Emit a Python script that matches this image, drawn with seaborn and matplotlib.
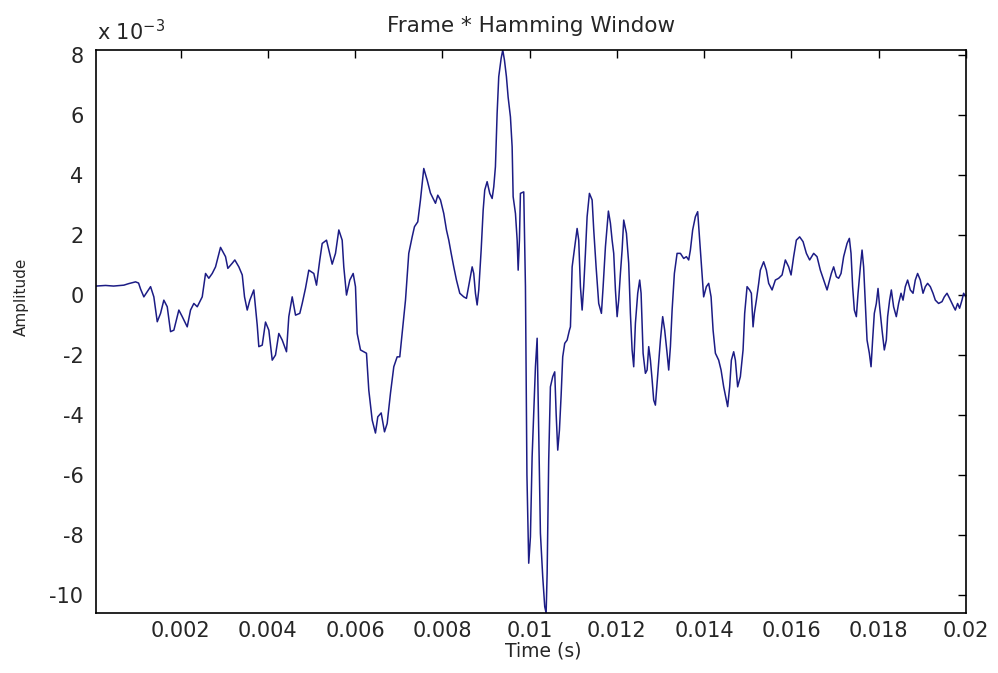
import numpy as np
import pandas as pd
import matplotlib
matplotlib.use("Agg")
import matplotlib.pyplot as plt
import seaborn as sns

# ---- data (time in ms, amplitude in units of 1e-3) ----
time_ms = [
    0.0625, 0.282, 0.465, 0.701, 0.809, 0.969, 1.038, 1.084, 1.159, 1.313,
    1.388, 1.466, 1.542, 1.617, 1.695, 1.771, 1.847, 1.961, 2.039, 2.153,
    2.229, 2.305, 2.383, 2.497, 2.573, 2.648, 2.726, 2.802, 2.916, 3.031,
    3.084, 3.184, 3.244, 3.336, 3.414, 3.466, 3.528, 3.588, 3.679, 3.757,
    3.794, 3.872, 3.947, 4.023, 4.101, 4.176, 4.252, 4.330, 4.428, 4.481,
    4.559, 4.635, 4.733, 4.788, 4.864, 4.939, 5.054, 5.116, 5.191, 5.246,
    5.345, 5.436, 5.475, 5.551, 5.627, 5.704, 5.741, 5.803, 5.879, 5.956,
    6.009, 6.048, 6.124, 6.261, 6.314, 6.392, 6.467, 6.520, 6.598, 6.674,
    6.735, 6.811, 6.887, 6.964, 7.024, 7.079, 7.155, 7.230, 7.308, 7.361,
    7.436, 7.498, 7.574, 7.652, 7.727, 7.803, 7.842, 7.895, 7.957, 8.032,
    8.094, 8.147, 8.202, 8.261, 8.323, 8.399, 8.490, 8.552, 8.628, 8.683,
    8.719, 8.758, 8.797, 8.834, 8.889, 8.935, 8.971, 9.026, 9.086, 9.141,
    9.178, 9.216, 9.255, 9.292, 9.347, 9.384, 9.423, 9.468, 9.507, 9.560,
    9.599, 9.622, 9.675, 9.714, 9.737, 9.766, 9.789, 9.865, 9.904, 9.938,
    9.979, 10.018, 10.057, 10.133, 10.172, 10.208, 10.247, 10.300, 10.346, 10.378,
    10.401, 10.437, 10.476, 10.529, 10.575, 10.607, 10.644, 10.683, 10.722, 10.758,
    10.804, 10.859, 10.912, 10.935, 10.974, 11.033, 11.088, 11.125, 11.164, 11.203,
    11.239, 11.278, 11.317, 11.370, 11.432, 11.469, 11.523, 11.583, 11.645, 11.684,
    11.737, 11.805, 11.851, 11.890, 11.927, 11.966, 12.005, 12.041, 12.080, 12.119,
    12.156, 12.218, 12.270, 12.309, 12.348, 12.385, 12.424, 12.477, 12.522, 12.554,
    12.600, 12.653, 12.692, 12.729, 12.768, 12.807, 12.843, 12.882, 12.921, 12.958,
    12.997, 13.049, 13.095, 13.150, 13.187, 13.226, 13.265, 13.317, 13.379, 13.455,
    13.531, 13.592, 13.645, 13.684, 13.736, 13.798, 13.851, 13.897, 13.952, 13.988,
    14.050, 14.103, 14.158, 14.204, 14.257, 14.332, 14.387, 14.447, 14.509, 14.538,
    14.584, 14.623, 14.676, 14.715, 14.767, 14.829, 14.891, 14.928, 14.983, 15.042,
    15.081, 15.120, 15.150, 15.196, 15.249, 15.287, 15.363, 15.425, 15.478, 15.556,
    15.631, 15.707, 15.785, 15.860, 15.936, 15.991, 16.050, 16.112, 16.188, 16.266,
    16.342, 16.417, 16.509, 16.586, 16.662, 16.738, 16.816, 16.875, 16.914, 16.967,
    17.029, 17.081, 17.136, 17.196, 17.274, 17.327, 17.365, 17.402, 17.441, 17.487,
    17.526, 17.579, 17.618, 17.654, 17.693, 17.732, 17.785, 17.824, 17.860, 17.899,
    17.945, 17.984, 18.021, 18.076, 18.128, 18.174, 18.204, 18.250, 18.289, 18.341,
    18.403, 18.456, 18.511, 18.557, 18.609, 18.662, 18.724, 18.786, 18.838, 18.891,
    18.953, 19.015, 19.068, 19.120, 19.182, 19.244, 19.297, 19.372, 19.450, 19.503,
    19.565, 19.624, 19.679, 19.716, 19.755, 19.808, 19.853, 19.908, 19.945, 20.000,
]
amp_e3 = [
    0.30, 0.32, 0.30, 0.33, 0.38, 0.44, 0.40, 0.20, -0.06, 0.28,
    -0.06, -0.89, -0.61, -0.17, -0.39, -1.22, -1.17, -0.50, -0.72, -1.06,
    -0.50, -0.28, -0.39, -0.06, 0.72, 0.56, 0.72, 0.94, 1.59, 1.28,
    0.89, 1.06, 1.17, 0.94, 0.67, -0.06, -0.50, -0.17, 0.17, -1.00,
    -1.72, -1.67, -0.90, -1.17, -2.17, -2.00, -1.28, -1.50, -1.89, -0.72,
    -0.06, -0.67, -0.61, -0.28, 0.23, 0.83, 0.72, 0.33, 1.17, 1.72,
    1.83, 1.28, 1.03, 1.39, 2.17, 1.83, 0.94, 0.00, 0.50, 0.72,
    0.28, -1.28, -1.83, -1.94, -3.17, -4.17, -4.60, -4.06, -3.93, -4.56,
    -4.28, -3.27, -2.39, -2.06, -2.06, -1.28, -0.17, 1.39, 1.94, 2.28,
    2.44, 3.17, 4.22, 3.83, 3.40, 3.17, 3.06, 3.33, 3.17, 2.72,
    2.17, 1.83, 1.39, 0.94, 0.50, 0.06, -0.06, -0.11, 0.50, 0.94,
    0.72, 0.06, -0.33, 0.17, 1.50, 2.83, 3.50, 3.78, 3.39, 3.22,
    3.61, 4.28, 6.06, 7.28, 7.89, 8.17, 7.83, 7.28, 6.60, 5.94,
    4.94, 3.28, 2.72, 1.83, 0.83, 1.83, 3.39, 3.44, 0.28, -6.00,
    -8.94, -8.06, -5.39, -2.39, -1.44, -4.50, -7.94, -9.39, -10.39, -10.60,
    -9.28, -5.50, -3.06, -2.72, -2.56, -3.94, -5.17, -4.50, -3.33, -2.06,
    -1.61, -1.50, -1.17, -1.06, 0.94, 1.61, 2.22, 1.83, 0.28, -0.50,
    0.28, 1.39, 2.61, 3.39, 3.17, 2.17, 0.94, -0.28, -0.61, 0.28,
    1.61, 2.80, 2.40, 1.83, 1.39, 0.17, -0.72, -0.17, 0.72, 1.50,
    2.50, 2.06, 1.06, -0.61, -1.83, -2.39, -0.94, 0.06, 0.50, 0.06,
    -1.94, -2.61, -2.50, -1.72, -2.17, -2.83, -3.50, -3.67, -2.94, -2.28,
    -1.50, -0.72, -1.17, -1.94, -2.50, -1.72, -0.50, 0.72, 1.39, 1.39,
    1.22, 1.28, 1.17, 1.50, 2.17, 2.61, 2.78, 1.83, 0.72, -0.06,
    0.28, 0.39, -0.06, -1.17, -1.94, -2.17, -2.50, -3.06, -3.50, -3.72,
    -3.06, -2.17, -1.89, -2.17, -3.06, -2.72, -1.83, -0.61, 0.28, 0.17,
    0.06, -1.06, -0.61, -0.17, 0.39, 0.83, 1.11, 0.83, 0.39, 0.17,
    0.50, 0.56, 0.67, 1.17, 0.94, 0.67, 1.28, 1.83, 1.94, 1.78,
    1.39, 1.17, 1.39, 1.28, 0.83, 0.50, 0.17, 0.50, 0.72, 0.94,
    0.61, 0.56, 0.72, 1.28, 1.72, 1.89, 1.39, 0.28, -0.50, -0.72,
    0.06, 0.94, 1.50, 0.94, -0.28, -1.50, -1.94, -2.39, -1.50, -0.61,
    -0.28, 0.22, -0.39, -1.17, -1.83, -1.50, -0.72, -0.17, 0.17, -0.39,
    -0.72, -0.28, 0.06, -0.17, 0.28, 0.50, 0.17, 0.06, 0.50, 0.72,
    0.50, 0.06, 0.28, 0.39, 0.28, 0.06, -0.17, -0.28, -0.22, -0.06,
    0.06, -0.11, -0.28, -0.39, -0.50, -0.28, -0.44, -0.17, 0.06, -0.06,
]

x_ticks = [0.002, 0.004, 0.006, 0.008, 0.010, 0.012, 0.014, 0.016, 0.018, 0.020]
x_tick_labels = ["0.002", "0.004", "0.006", "0.008", "0.01",
                 "0.012", "0.014", "0.016", "0.018", "0.02"]
y_ticks = [-10, -8, -6, -4, -2, 0, 2, 4, 6, 8]
y_tick_labels = ["-10", "-8", "-6", "-4", "-2", "0", "2", "4", "6", "8"]

title = "Frame * Hamming Window"
x_label = "Time (s)"
y_label = "Amplitude"

# ---- plotting ----
sns.set_theme(style="white")
plt.rcParams["font.family"] = ["DejaVu Sans"]
plt.rcParams["axes.unicode_minus"] = False

df = pd.DataFrame({"t": np.array(time_ms) / 1000.0, "a": amp_e3})

fig = plt.figure(figsize=(9.98, 6.73), dpi=100)
ax = fig.add_axes([96 / 998, 1 - 613 / 673, 870 / 998, 563 / 673])

sns.lineplot(data=df, x="t", y="a", ax=ax, color="#1c1c85", linewidth=1.1,
             estimator=None, sort=False)

ax.set_xlim(df["t"].min(), df["t"].max())
ax.set_ylim(df["a"].min(), df["a"].max())

ax.set_xticks(x_ticks)
ax.set_xticklabels(x_tick_labels)
ax.set_yticks(y_ticks)
ax.set_yticklabels(y_tick_labels)

text_color = "#262626"
ax.tick_params(axis="both", direction="in", length=6, width=1, color="black",
               labelsize=15, labelcolor=text_color, top=True, right=True)
ax.tick_params(axis="x", pad=6)
ax.tick_params(axis="y", pad=9)
for s in ax.spines.values():
    s.set_visible(True)
    s.set_color("black")
    s.set_linewidth(1.2)

ax.set_xlabel(x_label, fontsize=13.5, color=text_color)
ax.xaxis.set_label_coords(0.514, -0.051)
ax.set_ylabel(y_label, fontsize=11, color=text_color)
ax.yaxis.set_label_coords(-0.077, 0.561)
ax.set_title(title, fontsize=15.5, color=text_color, pad=13)
ax.text(0.001, 1.01, r"x 10$^{\mathregular{-3}}$", transform=ax.transAxes,
        fontsize=15, color=text_color, ha="left", va="bottom")

fig.savefig("out.png", dpi=100, facecolor="white")
